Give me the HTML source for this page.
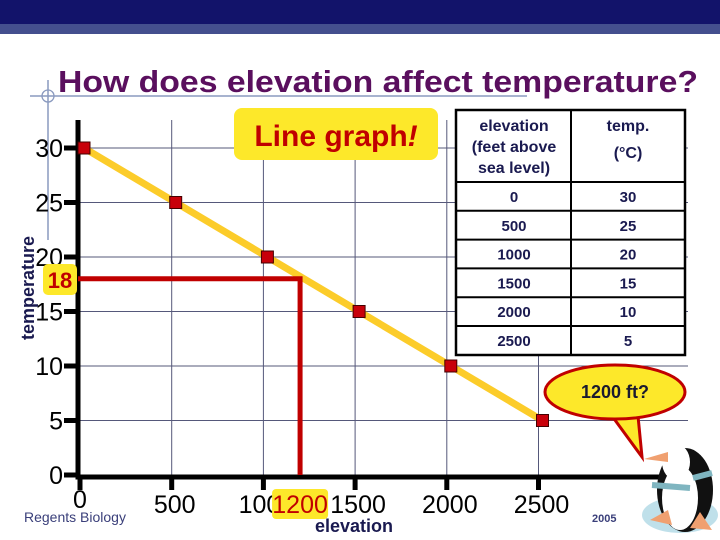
<!DOCTYPE html>
<html><head><meta charset="utf-8"><style>
body{margin:0;width:720px;height:540px;overflow:hidden;background:#fff;font-family:"Liberation Sans",sans-serif}
svg{display:block}
</style></head><body>
<svg width="720" height="540" viewBox="0 0 720 540" id="s">
<rect x="0" y="0" width="720" height="24" fill="#12136a"/>
<rect x="0" y="24" width="720" height="10" fill="#444f8e"/>
<line x1="48" y1="80" x2="48" y2="240" stroke="#8a9abf" stroke-width="1.5"/>
<line x1="30" y1="96" x2="527" y2="96" stroke="#8a9abf" stroke-width="1.5"/>
<circle cx="48" cy="96" r="6" fill="none" stroke="#8a9abf" stroke-width="1.3"/>
<text x="58" y="92" font-size="31" font-weight="bold" fill="#5a0f5e" textLength="640" lengthAdjust="spacingAndGlyphs">How does elevation affect temperature?</text>
<g id="grid"></g>
<g id="marks"></g>
<rect x="234" y="108" width="204" height="52" rx="8" fill="#fde82a"/>
<text x="336" y="146" font-size="30" font-weight="bold" fill="#c00000" text-anchor="middle">Line graph<tspan font-style="italic">!</tspan></text>
<g font-weight="bold" fill="#1a1a50" font-size="15" text-anchor="middle" id="tbl">
<rect x="456" y="110" width="229" height="245" fill="#fff" stroke="#000" stroke-width="2.5"/>
<line x1="571" y1="110" x2="571" y2="355" stroke="#000" stroke-width="2"/>
<text x="514" y="131" font-size="16">elevation</text>
<text x="514" y="152" font-size="16">(feet above</text>
<text x="514" y="173" font-size="16">sea level)</text>
<text x="628" y="131" font-size="16">temp.</text>
<text x="628" y="158" font-size="16">(°C)</text>
</g>
<g>
<path d="M612,416 L642,457 L638,416 Z" fill="#fde82a" stroke="#c00000" stroke-width="3"/>
<ellipse cx="615" cy="392" rx="70" ry="27" fill="#fde82a" stroke="#c00000" stroke-width="3"/>
<path d="M614,412 L640,412" stroke="#fde82a" stroke-width="6"/>
<text x="615" y="398" font-size="18" font-weight="bold" fill="#1a1a30" text-anchor="middle">1200 ft?</text>
</g>
<g>
<ellipse cx="680" cy="515" rx="38" ry="18" fill="#bfe0ea"/>
<ellipse cx="685" cy="490" rx="28" ry="42" fill="#111"/>
<ellipse cx="680" cy="498" rx="18" ry="32" fill="#fff"/>
<ellipse cx="676" cy="462" rx="14" ry="18" fill="#fff"/>
<path d="M644,459 L668,452 L668,462 Z" fill="#f0a070"/>
<path d="M652,485 L690,488" stroke="#7fb5c0" stroke-width="6"/>
<path d="M693,478 L712,473" stroke="#7fb5c0" stroke-width="6"/>
<path d="M650,520 L668,510 L672,525 Z M690,528 L700,512 L712,530 Z" fill="#f0a070"/>
</g>
<text x="24" y="522" font-size="14" fill="#3a3f7a">Regents Biology</text>
<text x="592" y="522" font-size="11" font-weight="bold" fill="#3a3f7a">2005</text>
</svg>
<script>
const xTicks=[0,500,1000,1500,2000,2500];
const yTicks=[0,5,10,15,20,25,30];
const elevations=[0,500,1000,1500,2000,2500];
const temps=[30,25,20,15,10,5];
const queryElev=1200;
const queryTemp=18;
const X=v=>80+v*0.1834, Y=v=>475-v*10.9;
const NS="http://www.w3.org/2000/svg";
function mk(p,tag,a,t){const e=document.createElementNS(NS,tag);for(const k in a)e.setAttribute(k,a[k]);if(t!==undefined)e.textContent=t;p.appendChild(e);return e;}
const g=document.getElementById('grid'), m=document.getElementById('marks');
xTicks.forEach(v=>{if(v>0){const l=mk(g,'line',{x1:X(v),y1:120,x2:X(v),y2:475,stroke:'#55587a','stroke-width':1});

}
mk(g,'line',{x1:X(v),y1:475,x2:X(v),y2:490,stroke:'#000','stroke-width':5});
if(v!==1000){const t=mk(g,'text',{x:X(v)+(v===0?0:3),y:v===0?508:513,'font-size':25,'text-anchor':'middle',fill:'#000'},String(v));

}});
const t1=mk(g,'text',{x:X(1000)+3,y:513,'font-size':25,'text-anchor':'middle',fill:'#000'},'1000');


yTicks.forEach(v=>{if(v>0){const l=mk(g,'line',{x1:78,y1:Y(v),x2:688,y2:Y(v),stroke:'#55587a','stroke-width':1});

}
mk(g,'line',{x1:64,y1:Y(v),x2:80,y2:Y(v),stroke:'#000','stroke-width':5});
const t=mk(g,'text',{x:63,y:Y(v)+9,'font-size':25,'text-anchor':'end',fill:'#000'},String(v));

});
const ax=mk(g,'path',{d:'M78,120 L78,477 L688,477',fill:'none',stroke:'#000','stroke-width':5});


const yt=mk(g,'text',{x:0,y:0,'font-size':18,'font-weight':'bold',fill:'#1a1a50','text-anchor':'middle',transform:'translate(34,288) rotate(-90)'},'temperature');


const xt=mk(g,'text',{x:354,y:532,'font-size':18,'font-weight':'bold',fill:'#1a1a50','text-anchor':'middle'},'elevation');


const line=mk(m,'polyline',{points:elevations.map((e,i)=>(X(e)+4)+','+Y(temps[i])).join(' '),fill:'none',stroke:'#fccc2a','stroke-width':7});


const rl=mk(m,'path',{d:`M78,${Y(queryTemp)} L${X(queryElev)},${Y(queryTemp)} L${X(queryElev)},475`,fill:'none',stroke:'#c00000','stroke-width':5});


elevations.forEach((e,i)=>{const r=mk(m,'rect',{x:X(e)-2,y:Y(temps[i])-6,width:12,height:12,fill:'#c8000a',stroke:'#400','stroke-width':1});

});
const b=mk(m,'rect',{x:43,y:264,width:34,height:31,rx:5,fill:'#fde82a'});


const bt=mk(m,'text',{x:60,y:288,'font-size':22,'font-weight':'bold',fill:'#c00000','text-anchor':'middle'},String(queryTemp));


const xb=mk(m,'rect',{x:X(queryElev)-28,y:489,width:56,height:30,rx:4,fill:'#fde82a'});


const xbt=mk(m,'text',{x:X(queryElev),y:513,'font-size':25,fill:'#c00000','text-anchor':'middle'},String(queryElev));


const tbl=document.getElementById('tbl');
elevations.forEach((e,i)=>{const y0=182+i*28.8;
mk(tbl,'line',{x1:456,y1:y0,x2:685,y2:y0,stroke:'#000','stroke-width':2});
const a=mk(tbl,'text',{x:514,y:y0+20},String(e));


const c=mk(tbl,'text',{x:628,y:y0+20},String(temps[i]));

});
</script>
</body></html>
